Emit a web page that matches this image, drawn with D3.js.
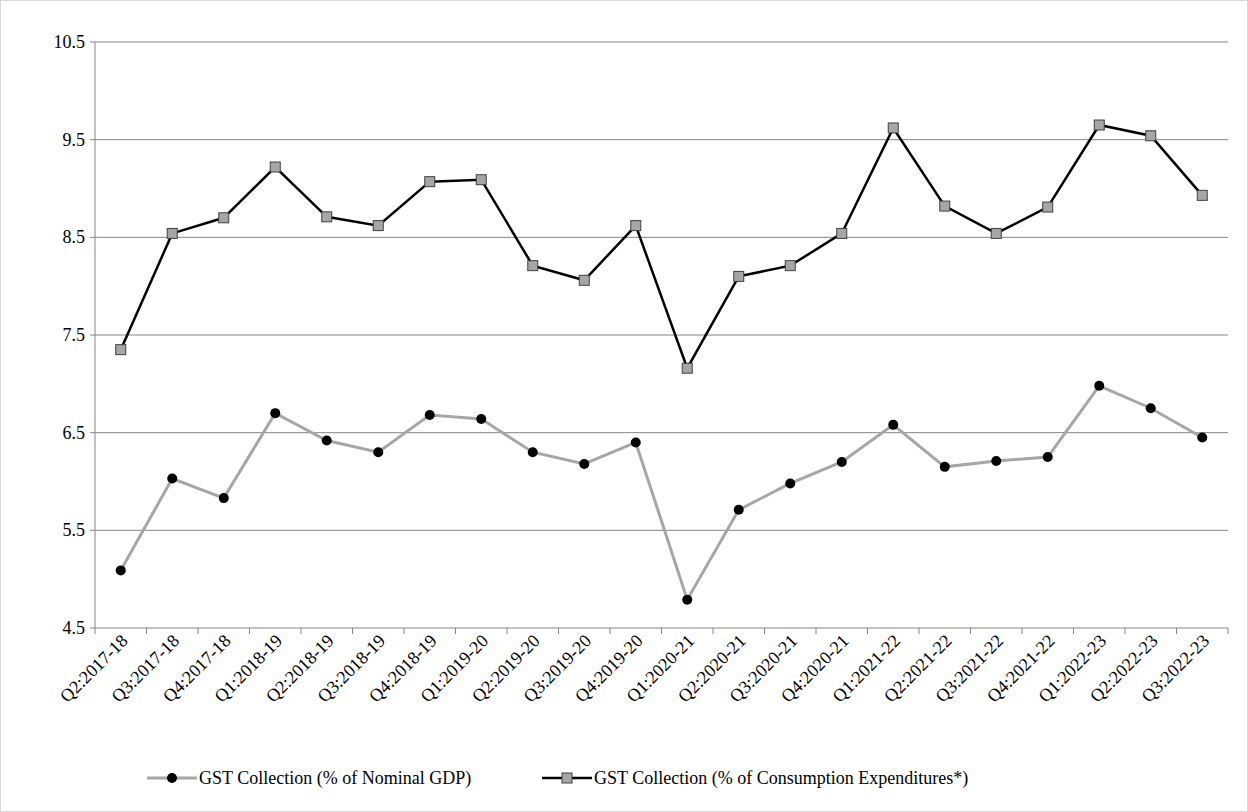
<!DOCTYPE html>
<html><head><meta charset="utf-8">
<script src="https://cdn.jsdelivr.net/npm/d3@7"></script>
<style>body{margin:0;background:#fff}</style>
</head><body><svg id="c" width="1248" height="812" font-family="'Liberation Serif', 'DejaVu Serif', serif" font-size="18"></svg>
<script>
const categories=["Q2:2017-18","Q3:2017-18","Q4:2017-18","Q1:2018-19","Q2:2018-19","Q3:2018-19","Q4:2018-19","Q1:2019-20","Q2:2019-20","Q3:2019-20","Q4:2019-20","Q1:2020-21","Q2:2020-21","Q3:2020-21","Q4:2020-21","Q1:2021-22","Q2:2021-22","Q3:2021-22","Q4:2021-22","Q1:2022-23","Q2:2022-23","Q3:2022-23"];
const gdpSeries=[5.09,6.03,5.83,6.70,6.42,6.30,6.68,6.64,6.30,6.18,6.40,4.79,5.71,5.98,6.20,6.58,6.15,6.21,6.25,6.98,6.75,6.45];
const consSeries=[7.35,8.54,8.70,9.22,8.71,8.62,9.07,9.09,8.21,8.06,8.62,7.16,8.10,8.21,8.54,9.62,8.82,8.54,8.81,9.65,9.54,8.93];
const yTicks=[4.5,5.5,6.5,7.5,8.5,9.5,10.5];
const svg=d3.select("#c");
svg.append("rect").attr("x",0.5).attr("y",0.5).attr("width",1247).attr("height",811).attr("fill","none").attr("stroke","#d9d9d9");
const L=95,R=1228,T=42,B=628;
const x=d3.scaleBand().domain(categories).range([L,R]);
const y=d3.scaleLinear().domain([4.5,10.5]).range([B,T]);
const cx=d=>x(d)+x.bandwidth()/2;
svg.selectAll(".g").data(yTicks).join("line").attr("x1",L).attr("x2",R).attr("y1",d=>y(d)).attr("y2",d=>y(d)).attr("stroke","#868686");
svg.append("line").attr("x1",L).attr("x2",L).attr("y1",T).attr("y2",B).attr("stroke","#868686");
svg.selectAll(".t").data(yTicks).join("line").attr("x1",L-5).attr("x2",L).attr("y1",d=>y(d)).attr("y2",d=>y(d)).attr("stroke","#868686");
svg.selectAll(".yl").data(yTicks).join("text").attr("x",L-10).attr("y",d=>y(d)+6).attr("text-anchor","end").text(d=>d.toFixed(1));
const bounds=categories.map(c=>x(c)).concat([R]);
svg.selectAll(".xt").data(bounds).join("line").attr("x1",d=>d).attr("x2",d=>d).attr("y1",B).attr("y2",B+6).attr("stroke","#868686");
svg.selectAll(".xl").data(categories).join("text").attr("transform",d=>`translate(${cx(d)+8},${B+14}) rotate(-45)`).attr("text-anchor","end").text(d=>d);
const line=d3.line().x((d,i)=>cx(categories[i])).y(d=>y(d));
svg.append("path").datum(gdpSeries).attr("d",line).attr("fill","none").attr("stroke","#a6a6a6").attr("stroke-width",3);
svg.append("path").datum(consSeries).attr("d",line).attr("fill","none").attr("stroke","#000").attr("stroke-width",2.5);
svg.selectAll(".p1").data(gdpSeries).join("circle").attr("cx",(d,i)=>cx(categories[i])).attr("cy",d=>y(d)).attr("r",5).attr("fill","#000");
svg.selectAll(".p2").data(consSeries).join("rect").attr("x",(d,i)=>cx(categories[i])-5).attr("y",d=>y(d)-5).attr("width",10).attr("height",10).attr("fill","#a6a6a6").attr("stroke","#404040");
const ly=778;
svg.append("line").attr("x1",147).attr("x2",197).attr("y1",ly).attr("y2",ly).attr("stroke","#a6a6a6").attr("stroke-width",3);
svg.append("circle").attr("cx",172).attr("cy",ly).attr("r",5).attr("fill","#000");
svg.append("text").attr("x",199).attr("y",ly+6).text("GST Collection (% of Nominal GDP)");
svg.append("line").attr("x1",542).attr("x2",592).attr("y1",ly).attr("y2",ly).attr("stroke","#000").attr("stroke-width",2.5);
svg.append("rect").attr("x",562).attr("y",ly-5).attr("width",10).attr("height",10).attr("fill","#a6a6a6").attr("stroke","#404040");
svg.append("text").attr("x",594).attr("y",ly+6).text("GST Collection (% of Consumption Expenditures*)");
</script></body></html>
